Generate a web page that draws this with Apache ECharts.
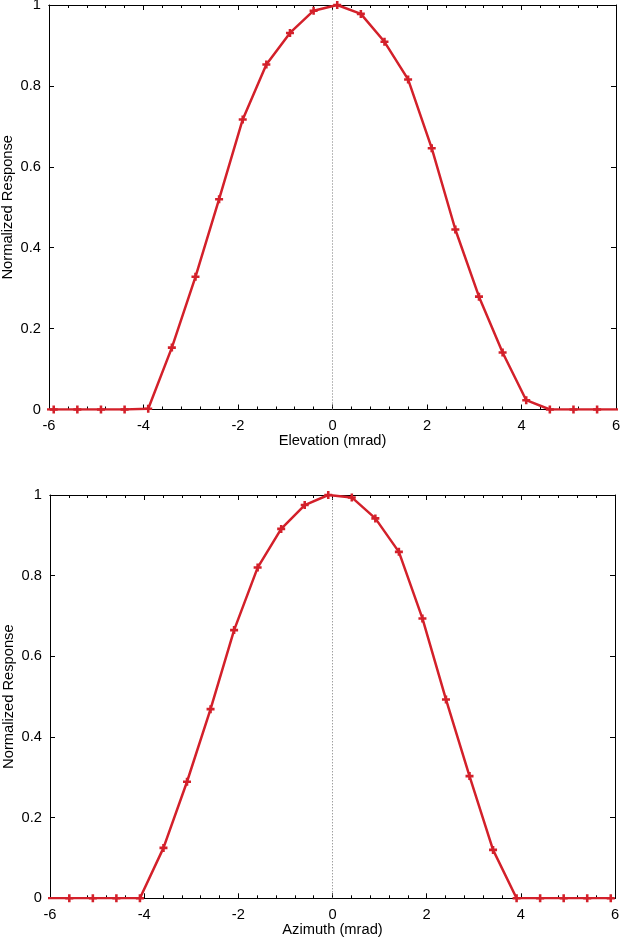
<!DOCTYPE html>
<html>
<head>
<meta charset="utf-8">
<script src="https://cdn.jsdelivr.net/npm/echarts@6/dist/echarts.min.js"></script>
<style>
html,body{margin:0;padding:0;background:#fff;}
#c{width:622px;height:940px;}
</style>
</head>
<body>
<div id="c"></div>
<script>
// Elevation scan (top panel)
const elevX = [-6.4, -5.9, -5.4, -4.9, -4.4, -3.9, -3.4, -2.9, -2.4, -1.9, -1.4, -0.9, -0.4, 0.1, 0.6, 1.1, 1.6, 2.1, 2.6, 3.1, 3.6, 4.1, 4.6, 5.1, 5.6, 6.1];
const elevY = [0, 0, 0, 0, 0, 0.002, 0.153, 0.328, 0.520, 0.717, 0.853, 0.931, 0.986, 1.0, 0.978, 0.909, 0.816, 0.646, 0.445, 0.279, 0.141, 0.023, 0, 0, 0, 0];
// Azimuth scan (bottom panel)
const azX = [-6.09, -5.59, -5.09, -4.59, -4.09, -3.59, -3.09, -2.59, -2.09, -1.59, -1.09, -0.59, -0.09, 0.41, 0.91, 1.41, 1.91, 2.41, 2.91, 3.41, 3.91, 4.41, 4.91, 5.41, 5.91];
const azY = [0, 0, 0, 0, 0, 0.125, 0.289, 0.469, 0.665, 0.820, 0.916, 0.975, 1.0, 0.994, 0.942, 0.859, 0.694, 0.493, 0.303, 0.120, 0, 0, 0, 0, 0];
// Zero reference line
const zeroLineX = [0, 0];
const zeroLineY = [0, 1];

const xName = ['Elevation (mrad)', 'Azimuth (mrad)'];
const yName = 'Normalized Response';

const FONT = 'Liberation Sans, Arial, Helvetica, sans-serif';
const RED = '#d3202a';
const plusPath = 'path://M3.4,0H6.6V3.4H10V6.6H6.6V10H3.4V6.6H0V3.4H3.4Z';

function zip(a, b) { return a.map((v, i) => [v, b[i]]); }

const grids = [
  {left: 49, right: 6, top: 5, height: 404.5, outerBoundsMode: 'none', containLabel: false},
  {left: 50, right: 7, top: 495, height: 403.3, outerBoundsMode: 'none', containLabel: false}
];

const xAxes = [], yAxes = [];
const lineBlack = {show: true, onZero: false, lineStyle: {color: '#000', width: 1}};
grids.forEach((g, gi) => {
  const base = {
    type: 'value', min: -6, max: 6, gridIndex: gi,
    axisLine: lineBlack,
    splitLine: {show: false}
  };
  // major ticks (bottom, with labels)
  xAxes.push(Object.assign({}, base, {
    position: 'bottom', interval: 2,
    axisTick: {show: true, inside: true, length: 5, lineStyle: {color: '#000'}},
    name: xName[gi], nameLocation: 'middle', nameGap: 24, nameMoveOverlap: false,
    nameTextStyle: {fontFamily: FONT, fontSize: 14.7, color: '#000'},
    axisLabel: {fontFamily: FONT, fontSize: 14.7, color: '#000', margin: 9}
  }));
  // major ticks (top mirror)
  xAxes.push(Object.assign({}, base, {
    position: 'top', interval: 2,
    axisTick: {show: true, inside: true, length: 5, lineStyle: {color: '#000'}},
    axisLabel: {show: false}
  }));
  // minor ticks bottom/top
  ['bottom', 'top'].forEach(p => {
    xAxes.push(Object.assign({}, base, {
      position: p, interval: 0.4,
      axisTick: {show: true, inside: true, length: 3, lineStyle: {color: '#000'}},
      axisLabel: {show: false}
    }));
  });
  const ybase = {
    type: 'value', min: 0, max: 1, interval: 0.2, gridIndex: gi,
    axisLine: lineBlack,
    axisTick: {show: true, inside: true, length: 5, lineStyle: {color: '#000'}},
    splitLine: {show: false}
  };
  yAxes.push(Object.assign({}, ybase, {
    position: 'left',
    name: yName, nameLocation: 'middle', nameGap: 34, nameMoveOverlap: false,
    nameTextStyle: {fontFamily: FONT, fontSize: 14.7, color: '#000'},
    axisLabel: {fontFamily: FONT, fontSize: 14.7, color: '#000', margin: 8}
  }));
  yAxes.push(Object.assign({}, ybase, {position: 'right', axisLabel: {show: false}}));
});

const series = [];
[[elevX, elevY], [azX, azY]].forEach((d, gi) => {
  series.push({
    type: 'line', xAxisIndex: gi * 4, yAxisIndex: gi * 2,
    data: zip(zeroLineX, zeroLineY),
    symbol: 'none', silent: true,
    lineStyle: {color: '#777', width: 1, type: [1, 2]}
  });
  series.push({
    type: 'line', xAxisIndex: gi * 4, yAxisIndex: gi * 2,
    data: zip(d[0], d[1]),
    clip: true,
    symbol: plusPath, symbolSize: 8, showAllSymbol: true,
    itemStyle: {color: RED},
    lineStyle: {color: RED, width: 2.5}
  });
});

const chart = echarts.init(document.getElementById('c'), null, {renderer: 'canvas'});
chart.setOption({
  animation: false,
  backgroundColor: '#fff',
  grid: grids,
  xAxis: xAxes,
  yAxis: yAxes,
  series: series
});
</script>
</body>
</html>
